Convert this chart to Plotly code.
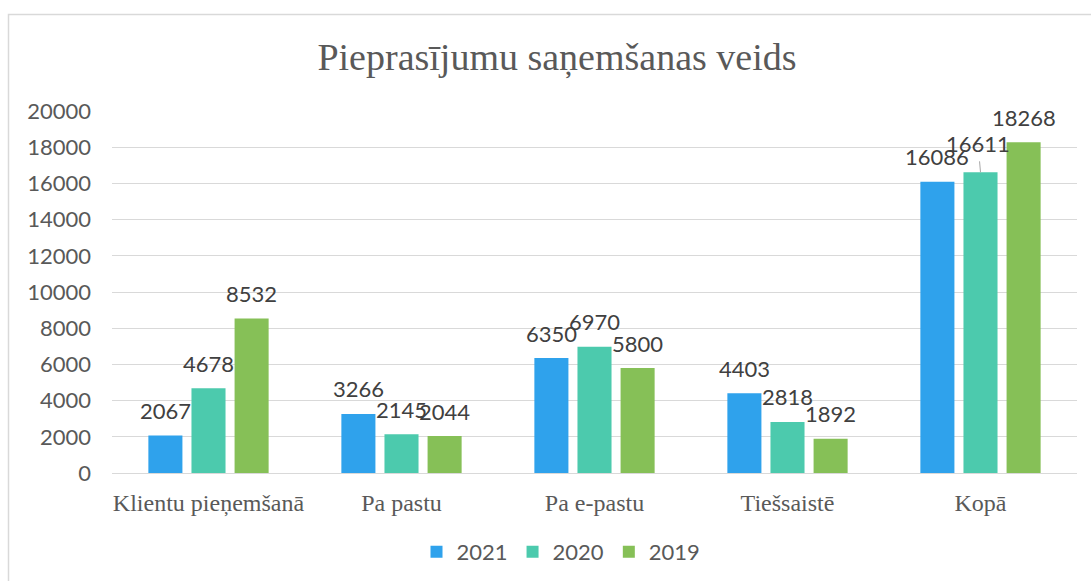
import plotly.graph_objects as go

categories = ["Klientu pieņemšanā", "Pa pastu", "Pa e-pastu", "Tiešsaistē", "Kopā"]
years = ["2021", "2020", "2019"]
values_2021 = [2067, 3266, 6350, 4403, 16086]
values_2020 = [4678, 2145, 6970, 2818, 16611]
values_2019 = [8532, 2044, 5800, 1892, 18268]
colors = ["#2FA2EC", "#4CCAAD", "#86C057"]
title_text = "Pieprasījumu saņemšanas veids"

W, H = 1091, 581
ML, MR, MT, MB = 112, 14, 111, 108
BARGAP, GROUPGAP = 0.33, 0.21
plot_w = W - ML - MR
plot_h = H - MT - MB
slot = plot_w / len(categories) * (1 - BARGAP) / len(years)

series = [values_2021, values_2020, values_2019]
NUM_FONT = "Lato, 'Century Gothic', sans-serif"
SERIF = "'Liberation Serif', 'Times New Roman', serif"

fig = go.Figure()
for name, vals, col in zip(years, series, colors):
    fig.add_trace(go.Bar(
        x=categories, y=vals, name=name,
        marker=dict(color=col, line=dict(width=0)),
    ))

annotations = []
for i, (vals, col) in enumerate(zip(series, colors)):
    off = (i - 1) * slot
    for cat, v in zip(categories, vals):
        if cat == "Kopā" and i == 1:
            annotations.append(dict(
                x=cat, y=v, xref="x", yref="y", text=str(v),
                showarrow=True, arrowhead=0, arrowwidth=1, arrowcolor="#A6A6A6",
                ax=-2.5, ay=-29, standoff=0, startstandoff=3,
                font=dict(family=NUM_FONT, size=22, color="#404040"),
            ))
        else:
            annotations.append(dict(
                x=cat, y=v, xref="x", yref="y", text=str(v),
                showarrow=False, xshift=off, yshift=25, yanchor="middle",
                font=dict(family=NUM_FONT, size=22, color="#404040"),
            ))

fig.update_layout(
    width=W, height=H,
    margin=dict(l=ML, r=MR, t=MT, b=MB, autoexpand=False),
    paper_bgcolor="white", plot_bgcolor="white",
    barmode="group", bargap=BARGAP, bargroupgap=GROUPGAP,
    title=dict(text=title_text, x=(321 + 793) / 2 / W, xanchor="center",
               y=1 - 57 / H, yanchor="middle",
               font=dict(family=SERIF, size=38, color="#595959")),
    xaxis=dict(showgrid=False, ticks="", showline=False, zeroline=False,
               automargin=False,
               tickfont=dict(family=SERIF, size=24, color="#595959"),
               ticklabelstandoff=13),
    yaxis=dict(range=[0, 20000], dtick=2000, tickformat="d",
               showgrid=True, gridcolor="#D9D9D9",
               gridwidth=1, zeroline=True, zerolinecolor="#D9D9D9", zerolinewidth=1,
               showline=False, ticks="", ticklabelstandoff=20, automargin=False,
               tickfont=dict(family=NUM_FONT, size=22, color="#595959")),
    legend=dict(orientation="h", xref="container", yref="container",
                x=561 / W, xanchor="center",
                y=1 - 552 / H, yanchor="middle",
                font=dict(family=NUM_FONT, size=22, color="#595959"),
                traceorder="normal"),
    annotations=annotations,
    shapes=[dict(type="rect", xref="paper", yref="paper",
                 x0=(8.5 - ML) / plot_w, x1=(W + 5 - ML) / plot_w,
                 y0=-(H + 5 - (H - MB)) / plot_h, y1=1 + (MT - 14.5) / plot_h,
                 line=dict(color="#D9D9D9", width=1.5), fillcolor="rgba(0,0,0,0)",
                 layer="below")],
    showlegend=True,
)

fig.write_html("out.html", config={"displayModeBar": False},
               post_script="document.body.style.margin='0';")
